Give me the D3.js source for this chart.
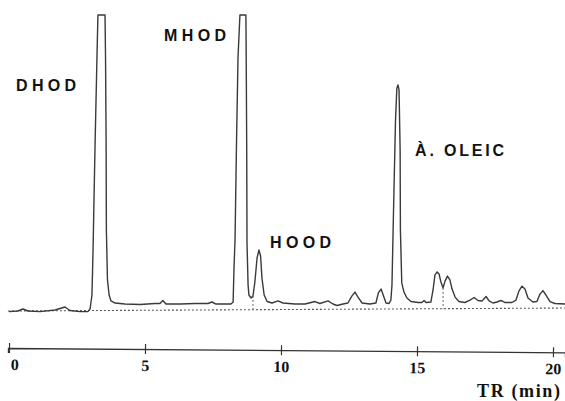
<!DOCTYPE html>
<html>
<head>
<meta charset="utf-8">
<script src="https://cdn.jsdelivr.net/npm/d3@7"></script>
<style>
  html, body { margin: 0; padding: 0; background: #fff; }
  svg { display: block; }
</style>
</head>
<body>
<script>
// ---- Data ----
const times = [0.00,0.33,0.51,0.70,1.14,1.69,2.06,2.24,2.61,2.90,2.98,3.05,3.09,3.16,3.24,3.27,3.53,3.55,3.57,3.58,3.62,3.68,3.75,3.90,4.26,4.82,5.37,5.55,5.66,5.77,6.29,6.84,7.32,7.46,7.61,8.16,8.24,8.27,8.31,8.36,8.42,8.49,8.71,8.72,8.74,8.75,8.79,8.82,8.90,8.97,9.04,9.12,9.19,9.25,9.30,9.38,9.49,9.67,9.89,10.07,10.51,10.88,11.25,11.43,11.73,11.91,12.06,12.28,12.46,12.61,12.72,12.83,12.98,13.27,13.49,13.58,13.68,13.77,13.86,13.97,14.04,14.08,14.14,14.21,14.26,14.30,14.34,14.38,14.39,14.44,14.52,14.63,14.78,15.04,15.18,15.26,15.33,15.51,15.59,15.66,15.74,15.81,15.88,15.96,16.03,16.12,16.21,16.29,16.40,16.54,16.76,16.95,17.10,17.24,17.39,17.54,17.65,17.79,17.94,18.09,18.24,18.49,18.64,18.75,18.86,18.97,19.08,19.26,19.41,19.52,19.63,19.74,19.89,20.07,20.44];
const signal = [-0.2,0,0.68,0,-0.2,0.34,1.35,0.17,-0.2,-0.2,0.68,5.4,20.6,54.4,88.2,100,100,84.8,57.8,27.4,10.5,5.4,3.4,2.7,2.36,2.2,2.53,2.53,3.55,2.36,2.36,2.53,2.53,3.04,2.36,2.36,3.04,13.9,24,54.4,85.8,100,100,87.2,54.4,23,8.8,5.4,4.4,5.1,9.8,17.9,20.6,18.6,11.1,5.4,3.2,2.7,3.4,2.7,2.36,2.36,3.2,2.53,3.4,2.36,1.86,2.36,2.7,5.1,6.4,4.7,2.7,2.36,2.7,6.1,7.4,5.1,2.7,2.53,3.7,8.8,35.1,64.5,75.3,76.4,74.7,54.4,27.4,9.5,6.4,4.4,3.2,2.87,2.87,3.55,2.87,3.04,7.1,12.2,13.2,12.5,9.8,7.8,10.1,11.8,10.5,7.4,4.7,3.2,2.87,3.7,4.56,3.55,3.4,4.9,3.4,2.7,3.04,3.55,2.87,2.87,3.7,6.8,8.4,7.4,4.4,3.04,3.2,5.7,6.9,5.4,3.2,2.53,2.36];
const baselineTimes = [-0.04, 20.44];
const baselineSignal = [0, 1.0];
const dropTimes = [8.97, 15.96];
const dropSignal = [5.1, 7.8];
const tickValues = [0, 5, 10, 15, 20];
const tickLabels = ["0", "5", "10", "15", "20"];
const peakNames = ["DHOD", "MHOD", "HOOD", "À. OLEIC"];
const peakLabelTimes = [0.26, 5.70, 9.60, 14.93];
const peakLabelSignal = [74.3, 91.2, 21.3, 52.4];
const axisTitle = "TR (min)";

// ---- Layout ----
const W = 565, H = 401;
const labelWidths = [60, 62, 61, 89];
const svg = d3.select("body").append("svg").attr("width", W).attr("height", H);

const x = d3.scaleLinear().domain([0, 20]).range([9, 553]);
const y = d3.scaleLinear().domain([0, 100]).range([311, 15]);

const pts = times.map((t, i) => [t, signal[i]]);

// dotted baseline
svg.append("path")
  .datum(baselineTimes.map((t, i) => [t, baselineSignal[i]]))
  .attr("d", d3.line().x(d => x(d[0])).y(d => y(d[1])))
  .attr("fill", "none").attr("stroke", "#555").attr("stroke-width", 1.1)
  .attr("stroke-dasharray", "2,2");

// dotted drop lines
const blAt = t => d3.scaleLinear().domain(baselineTimes).range(baselineSignal)(t);
svg.selectAll("line.drop").data(dropTimes).join("line")
  .attr("class", "drop")
  .attr("x1", d => x(d)).attr("x2", d => x(d))
  .attr("y1", (d, i) => y(dropSignal[i])).attr("y2", d => y(blAt(d)))
  .attr("stroke", "#666").attr("stroke-width", 1).attr("stroke-dasharray", "2,2");

// trace
svg.append("path")
  .datum(pts)
  .attr("d", d3.line().x(d => x(d[0])).y(d => y(d[1])))
  .attr("fill", "none").attr("stroke", "#3a3a3a").attr("stroke-width", 1.4)
  .attr("stroke-linejoin", "round");

// peak labels
svg.selectAll("text.peak").data(peakNames).join("text")
  .attr("class", "peak")
  .attr("x", (d, i) => x(peakLabelTimes[i]))
  .attr("y", (d, i) => y(peakLabelSignal[i]))
  .attr("font-family", "Liberation Sans, Arial, sans-serif")
  .attr("font-weight", "bold").attr("font-size", 16)
  .attr("textLength", (d, i) => labelWidths[i]).attr("lengthAdjust", "spacing")
  .attr("fill", "#111")
  .text(d => d);

// axis
const xa = x.copy().domain([x.invert(8), x.invert(565)]).range([8, 565]);
const axisG = svg.append("g")
  .attr("transform", "translate(0,348) rotate(0.45,8,0)")
  .call(d3.axisBottom(xa).tickValues(tickValues).tickSizeOuter(0).tickSize(5)
        .tickFormat((d, i) => tickLabels[i]));
axisG.select(".domain").attr("stroke", "#333").attr("stroke-width", 1.3);
axisG.selectAll(".tick line").attr("y1", -5).attr("y2", 5).attr("stroke", "#333").attr("stroke-width", 1.2);
axisG.selectAll(".tick text")
  .attr("y", 22).attr("dy", null)
  .attr("dx", d => d === 0 ? 5.5 : 0)
  .attr("font-family", "Liberation Serif, Times New Roman, serif")
  .attr("font-weight", "bold").attr("font-size", 16).attr("fill", "#111");

svg.append("text")
  .attr("x", 477).attr("y", 397)
  .attr("font-family", "Liberation Serif, Times New Roman, serif")
  .attr("font-weight", "bold").attr("font-size", 18)
  .attr("textLength", 83).attr("lengthAdjust", "spacing")
  .attr("fill", "#111")
  .text(axisTitle);
</script>
</body>
</html>
